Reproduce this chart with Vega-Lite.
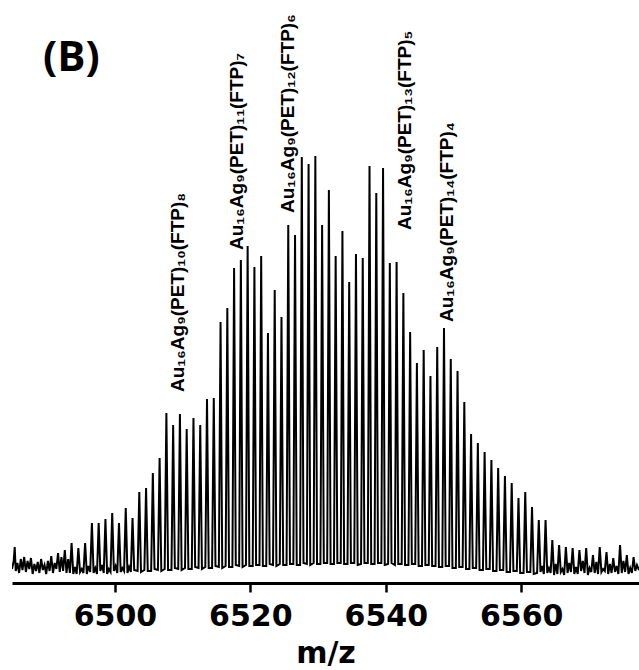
{
  "$schema": "https://vega.github.io/schema/vega-lite/v6.json",
  "autosize": "none",
  "width": 627,
  "height": 583,
  "padding": {"left": 12, "top": 0, "right": 0, "bottom": 87},
  "background": "white",
  "config": {"view": {"stroke": null}},
  "title": {
    "text": "(B)",
    "anchor": "start",
    "frame": "group",
    "offset": 0,
    "dx": 31,
    "dy": 113,
    "baseline": "alphabetic",
    "font": "Open Sans",
    "fontSize": 42,
    "fontWeight": "bold",
    "color": "black"
  },
  "layer": [
    {
      "data": {
        "values": [
          {"mz": 6484.8, "intensity": 14}, {"mz": 6485.05, "intensity": 22}, {"mz": 6485.2, "intensity": 36},
          {"mz": 6485.35, "intensity": 12}, {"mz": 6485.6, "intensity": 20}, {"mz": 6485.85, "intensity": 10},
          {"mz": 6486.1, "intensity": 24}, {"mz": 6486.35, "intensity": 13}, {"mz": 6486.6, "intensity": 26},
          {"mz": 6486.85, "intensity": 11}, {"mz": 6487.1, "intensity": 22}, {"mz": 6487.35, "intensity": 14},
          {"mz": 6487.6, "intensity": 25}, {"mz": 6487.85, "intensity": 9}, {"mz": 6488.1, "intensity": 19},
          {"mz": 6488.35, "intensity": 12}, {"mz": 6488.6, "intensity": 21}, {"mz": 6488.85, "intensity": 10},
          {"mz": 6489.1, "intensity": 24}, {"mz": 6489.35, "intensity": 13}, {"mz": 6489.6, "intensity": 18},
          {"mz": 6489.85, "intensity": 9}, {"mz": 6490.1, "intensity": 22}, {"mz": 6490.35, "intensity": 12},
          {"mz": 6490.6, "intensity": 27}, {"mz": 6490.85, "intensity": 10}, {"mz": 6491.1, "intensity": 20},
          {"mz": 6491.35, "intensity": 14}, {"mz": 6491.6, "intensity": 30}, {"mz": 6491.85, "intensity": 11},
          {"mz": 6492.1, "intensity": 26}, {"mz": 6492.35, "intensity": 12}, {"mz": 6492.6, "intensity": 33},
          {"mz": 6492.85, "intensity": 10}, {"mz": 6493.1, "intensity": 24},

          {"mz": 6493.35, "intensity": 10}, {"mz": 6493.6, "intensity": 40}, {"mz": 6493.85, "intensity": 9}, {"mz": 6494.1, "intensity": 16},
          {"mz": 6494.35, "intensity": 9}, {"mz": 6494.6, "intensity": 35}, {"mz": 6494.85, "intensity": 11}, {"mz": 6495.1, "intensity": 14},
          {"mz": 6495.35, "intensity": 10}, {"mz": 6495.6, "intensity": 40}, {"mz": 6495.85, "intensity": 9}, {"mz": 6496.1, "intensity": 17},
          {"mz": 6496.35, "intensity": 11}, {"mz": 6496.6, "intensity": 60}, {"mz": 6496.85, "intensity": 10}, {"mz": 6497.1, "intensity": 15},
          {"mz": 6497.35, "intensity": 9}, {"mz": 6497.6, "intensity": 60}, {"mz": 6497.85, "intensity": 12}, {"mz": 6498.1, "intensity": 18},
          {"mz": 6498.35, "intensity": 10}, {"mz": 6498.6, "intensity": 64}, {"mz": 6498.85, "intensity": 9}, {"mz": 6499.1, "intensity": 14},
          {"mz": 6499.35, "intensity": 11}, {"mz": 6499.6, "intensity": 70}, {"mz": 6499.85, "intensity": 12}, {"mz": 6500.1, "intensity": 17},
          {"mz": 6500.35, "intensity": 10}, {"mz": 6500.6, "intensity": 60}, {"mz": 6500.85, "intensity": 11}, {"mz": 6501.1, "intensity": 15},
          {"mz": 6501.35, "intensity": 12}, {"mz": 6501.6, "intensity": 75}, {"mz": 6501.85, "intensity": 10}, {"mz": 6502.1, "intensity": 16},
          {"mz": 6502.35, "intensity": 11}, {"mz": 6502.6, "intensity": 65}, {"mz": 6502.85, "intensity": 13},
          {"mz": 6503.35, "intensity": 12}, {"mz": 6503.6, "intensity": 91}, {"mz": 6503.85, "intensity": 11},
          {"mz": 6504.35, "intensity": 13}, {"mz": 6504.6, "intensity": 95}, {"mz": 6504.85, "intensity": 12},
          {"mz": 6505.35, "intensity": 12}, {"mz": 6505.6, "intensity": 110}, {"mz": 6505.85, "intensity": 14},
          {"mz": 6506.35, "intensity": 13}, {"mz": 6506.6, "intensity": 125}, {"mz": 6506.85, "intensity": 12},
          {"mz": 6507.35, "intensity": 14}, {"mz": 6507.6, "intensity": 170}, {"mz": 6507.85, "intensity": 13},
          {"mz": 6508.35, "intensity": 13}, {"mz": 6508.6, "intensity": 158}, {"mz": 6508.85, "intensity": 15},
          {"mz": 6509.35, "intensity": 14}, {"mz": 6509.6, "intensity": 169}, {"mz": 6509.85, "intensity": 13},
          {"mz": 6510.35, "intensity": 15}, {"mz": 6510.6, "intensity": 154}, {"mz": 6510.85, "intensity": 14},
          {"mz": 6511.35, "intensity": 14}, {"mz": 6511.6, "intensity": 165}, {"mz": 6511.85, "intensity": 16},
          {"mz": 6512.35, "intensity": 15}, {"mz": 6512.6, "intensity": 158}, {"mz": 6512.85, "intensity": 14},
          {"mz": 6513.35, "intensity": 16}, {"mz": 6513.6, "intensity": 184}, {"mz": 6513.85, "intensity": 15},
          {"mz": 6514.35, "intensity": 15}, {"mz": 6514.6, "intensity": 185}, {"mz": 6514.85, "intensity": 17},
          {"mz": 6515.35, "intensity": 16}, {"mz": 6515.6, "intensity": 261}, {"mz": 6515.85, "intensity": 15},
          {"mz": 6516.35, "intensity": 17}, {"mz": 6516.6, "intensity": 275}, {"mz": 6516.85, "intensity": 16},
          {"mz": 6517.35, "intensity": 16}, {"mz": 6517.6, "intensity": 315}, {"mz": 6517.85, "intensity": 18},
          {"mz": 6518.35, "intensity": 17}, {"mz": 6518.6, "intensity": 323}, {"mz": 6518.85, "intensity": 16},
          {"mz": 6519.35, "intensity": 18}, {"mz": 6519.6, "intensity": 337}, {"mz": 6519.85, "intensity": 17},
          {"mz": 6520.35, "intensity": 17}, {"mz": 6520.6, "intensity": 316}, {"mz": 6520.85, "intensity": 18},
          {"mz": 6521.35, "intensity": 18}, {"mz": 6521.6, "intensity": 327}, {"mz": 6521.85, "intensity": 17},
          {"mz": 6522.35, "intensity": 17}, {"mz": 6522.6, "intensity": 250}, {"mz": 6522.85, "intensity": 19},
          {"mz": 6523.35, "intensity": 18}, {"mz": 6523.6, "intensity": 293}, {"mz": 6523.85, "intensity": 17},
          {"mz": 6524.35, "intensity": 19}, {"mz": 6524.6, "intensity": 266}, {"mz": 6524.85, "intensity": 18},
          {"mz": 6525.35, "intensity": 18}, {"mz": 6525.6, "intensity": 358}, {"mz": 6525.85, "intensity": 19},
          {"mz": 6526.35, "intensity": 19}, {"mz": 6526.6, "intensity": 348}, {"mz": 6526.85, "intensity": 18},
          {"mz": 6527.35, "intensity": 18}, {"mz": 6527.6, "intensity": 426}, {"mz": 6527.85, "intensity": 20},
          {"mz": 6528.35, "intensity": 19}, {"mz": 6528.6, "intensity": 419}, {"mz": 6528.85, "intensity": 18},
          {"mz": 6529.35, "intensity": 20}, {"mz": 6529.6, "intensity": 427}, {"mz": 6529.85, "intensity": 19},
          {"mz": 6530.35, "intensity": 19}, {"mz": 6530.6, "intensity": 358}, {"mz": 6530.85, "intensity": 20},
          {"mz": 6531.35, "intensity": 20}, {"mz": 6531.6, "intensity": 393}, {"mz": 6531.85, "intensity": 19},
          {"mz": 6532.35, "intensity": 19}, {"mz": 6532.6, "intensity": 327}, {"mz": 6532.85, "intensity": 20},
          {"mz": 6533.35, "intensity": 20}, {"mz": 6533.6, "intensity": 352}, {"mz": 6533.85, "intensity": 19},
          {"mz": 6534.35, "intensity": 19}, {"mz": 6534.6, "intensity": 301}, {"mz": 6534.85, "intensity": 20},
          {"mz": 6535.35, "intensity": 20}, {"mz": 6535.6, "intensity": 329}, {"mz": 6535.85, "intensity": 18},
          {"mz": 6536.35, "intensity": 19}, {"mz": 6536.6, "intensity": 325}, {"mz": 6536.85, "intensity": 20},
          {"mz": 6537.35, "intensity": 20}, {"mz": 6537.6, "intensity": 417}, {"mz": 6537.85, "intensity": 19},
          {"mz": 6538.35, "intensity": 19}, {"mz": 6538.6, "intensity": 390}, {"mz": 6538.85, "intensity": 20},
          {"mz": 6539.35, "intensity": 20}, {"mz": 6539.6, "intensity": 415}, {"mz": 6539.85, "intensity": 18},
          {"mz": 6540.35, "intensity": 19}, {"mz": 6540.6, "intensity": 320}, {"mz": 6540.85, "intensity": 20},
          {"mz": 6541.35, "intensity": 18}, {"mz": 6541.6, "intensity": 321}, {"mz": 6541.85, "intensity": 19},
          {"mz": 6542.35, "intensity": 19}, {"mz": 6542.6, "intensity": 290}, {"mz": 6542.85, "intensity": 18},
          {"mz": 6543.35, "intensity": 18}, {"mz": 6543.6, "intensity": 251}, {"mz": 6543.85, "intensity": 19},
          {"mz": 6544.35, "intensity": 19}, {"mz": 6544.6, "intensity": 220}, {"mz": 6544.85, "intensity": 17},
          {"mz": 6545.35, "intensity": 17}, {"mz": 6545.6, "intensity": 233}, {"mz": 6545.85, "intensity": 18},
          {"mz": 6546.35, "intensity": 18}, {"mz": 6546.6, "intensity": 207}, {"mz": 6546.85, "intensity": 17},
          {"mz": 6547.35, "intensity": 17}, {"mz": 6547.6, "intensity": 236}, {"mz": 6547.85, "intensity": 16},
          {"mz": 6548.35, "intensity": 16}, {"mz": 6548.6, "intensity": 255}, {"mz": 6548.85, "intensity": 17},
          {"mz": 6549.35, "intensity": 17}, {"mz": 6549.6, "intensity": 224}, {"mz": 6549.85, "intensity": 15},
          {"mz": 6550.35, "intensity": 15}, {"mz": 6550.6, "intensity": 212}, {"mz": 6550.85, "intensity": 16},
          {"mz": 6551.35, "intensity": 16}, {"mz": 6551.6, "intensity": 181}, {"mz": 6551.85, "intensity": 14},
          {"mz": 6552.35, "intensity": 14}, {"mz": 6552.6, "intensity": 149}, {"mz": 6552.85, "intensity": 15},
          {"mz": 6553.35, "intensity": 15}, {"mz": 6553.6, "intensity": 140}, {"mz": 6553.85, "intensity": 13},
          {"mz": 6554.35, "intensity": 13}, {"mz": 6554.6, "intensity": 131}, {"mz": 6554.85, "intensity": 14},
          {"mz": 6555.35, "intensity": 14}, {"mz": 6555.6, "intensity": 123}, {"mz": 6555.85, "intensity": 12},
          {"mz": 6556.35, "intensity": 12}, {"mz": 6556.6, "intensity": 115}, {"mz": 6556.85, "intensity": 13},
          {"mz": 6557.35, "intensity": 13}, {"mz": 6557.6, "intensity": 107}, {"mz": 6557.85, "intensity": 11},
          {"mz": 6558.35, "intensity": 11}, {"mz": 6558.6, "intensity": 100}, {"mz": 6558.85, "intensity": 12},
          {"mz": 6559.35, "intensity": 12}, {"mz": 6559.6, "intensity": 85}, {"mz": 6559.85, "intensity": 10},
          {"mz": 6560.35, "intensity": 10}, {"mz": 6560.6, "intensity": 91}, {"mz": 6560.85, "intensity": 11},
          {"mz": 6561.35, "intensity": 11}, {"mz": 6561.6, "intensity": 76}, {"mz": 6561.85, "intensity": 9},
          {"mz": 6562.35, "intensity": 10}, {"mz": 6562.6, "intensity": 63}, {"mz": 6562.85, "intensity": 11}, {"mz": 6563.1, "intensity": 17},
          {"mz": 6563.35, "intensity": 9}, {"mz": 6563.6, "intensity": 63}, {"mz": 6563.85, "intensity": 10}, {"mz": 6564.1, "intensity": 15},
          {"mz": 6564.35, "intensity": 10}, {"mz": 6564.6, "intensity": 43}, {"mz": 6564.85, "intensity": 8}, {"mz": 6565.1, "intensity": 19},
          {"mz": 6565.35, "intensity": 9}, {"mz": 6565.6, "intensity": 38}, {"mz": 6565.85, "intensity": 11}, {"mz": 6566.1, "intensity": 14},
          {"mz": 6566.35, "intensity": 8}, {"mz": 6566.6, "intensity": 36}, {"mz": 6566.85, "intensity": 10}, {"mz": 6567.1, "intensity": 20},
          {"mz": 6567.35, "intensity": 11}, {"mz": 6567.6, "intensity": 35}, {"mz": 6567.85, "intensity": 9}, {"mz": 6568.1, "intensity": 16},
          {"mz": 6568.35, "intensity": 9}, {"mz": 6568.6, "intensity": 33}, {"mz": 6568.85, "intensity": 12}, {"mz": 6569.1, "intensity": 22},
          {"mz": 6569.35, "intensity": 10}, {"mz": 6569.6, "intensity": 35}, {"mz": 6569.85, "intensity": 8}, {"mz": 6570.1, "intensity": 15},
          {"mz": 6570.35, "intensity": 11}, {"mz": 6570.6, "intensity": 28}, {"mz": 6570.85, "intensity": 10}, {"mz": 6571.1, "intensity": 21},
          {"mz": 6571.35, "intensity": 9}, {"mz": 6571.6, "intensity": 36}, {"mz": 6571.85, "intensity": 11}, {"mz": 6572.1, "intensity": 14},
          {"mz": 6572.35, "intensity": 12}, {"mz": 6572.6, "intensity": 31}, {"mz": 6572.85, "intensity": 9}, {"mz": 6573.1, "intensity": 19},
          {"mz": 6573.35, "intensity": 10}, {"mz": 6573.6, "intensity": 25}, {"mz": 6573.85, "intensity": 11}, {"mz": 6574.1, "intensity": 17},
          {"mz": 6574.35, "intensity": 9}, {"mz": 6574.6, "intensity": 38}, {"mz": 6574.85, "intensity": 10}, {"mz": 6575.1, "intensity": 22},
          {"mz": 6575.35, "intensity": 11}, {"mz": 6575.6, "intensity": 28}, {"mz": 6575.85, "intensity": 9}, {"mz": 6576.1, "intensity": 15},
          {"mz": 6576.35, "intensity": 10}, {"mz": 6576.6, "intensity": 26}, {"mz": 6576.85, "intensity": 12}, {"mz": 6577.1, "intensity": 18},
          {"mz": 6577.4, "intensity": 13}
        ]
      },
      "mark": {"type": "line", "color": "black", "strokeWidth": 2, "clip": true},
      "encoding": {
        "x": {
          "field": "mz",
          "type": "quantitative",
          "scale": {"domain": [6484.8, 6577.4], "nice": false, "zero": false},
          "axis": {
            "orient": "bottom",
            "values": [6500, 6520, 6540, 6560],
            "format": "d",
            "grid": false,
            "domainColor": "black",
            "domainWidth": 3,
            "tickColor": "black",
            "tickWidth": 2.5,
            "tickSize": 9,
            "labelFont": "DejaVu Sans",
            "labelFontWeight": "bold",
            "labelFontSize": 30,
            "labelColor": "black",
            "labelBaseline": "alphabetic",
            "labelPadding": 33,
            "title": "m/z",
            "titleFont": "DejaVu Sans",
            "titleFontWeight": "bold",
            "titleFontSize": 30,
            "titleColor": "black",
            "titleBaseline": "alphabetic",
            "titleY": 79
          }
        },
        "y": {
          "field": "intensity",
          "type": "quantitative",
          "scale": {"domain": [0, 583], "nice": false, "zero": true},
          "axis": null
        }
      }
    },
    {
      "data": {
        "values": [
          {"mz": 6509.31, "intensity": 191, "species": "Au₁₆Ag₉(PET)₁₀(FTP)₈"},
          {"mz": 6518.03, "intensity": 333, "species": "Au₁₆Ag₉(PET)₁₁(FTP)₇"},
          {"mz": 6525.57, "intensity": 370, "species": "Au₁₆Ag₉(PET)₁₂(FTP)₆"},
          {"mz": 6542.86, "intensity": 353, "species": "Au₁₆Ag₉(PET)₁₃(FTP)₅"},
          {"mz": 6549.06, "intensity": 261, "species": "Au₁₆Ag₉(PET)₁₄(FTP)₄"}
        ]
      },
      "mark": {
        "type": "text",
        "angle": 270,
        "align": "left",
        "baseline": "middle",
        "font": "Liberation Sans",
        "fontWeight": "bold",
        "fontSize": 19,
        "color": "black"
      },
      "encoding": {
        "x": {"field": "mz", "type": "quantitative"},
        "y": {"field": "intensity", "type": "quantitative"},
        "text": {"field": "species"}
      }
    }
  ]
}
